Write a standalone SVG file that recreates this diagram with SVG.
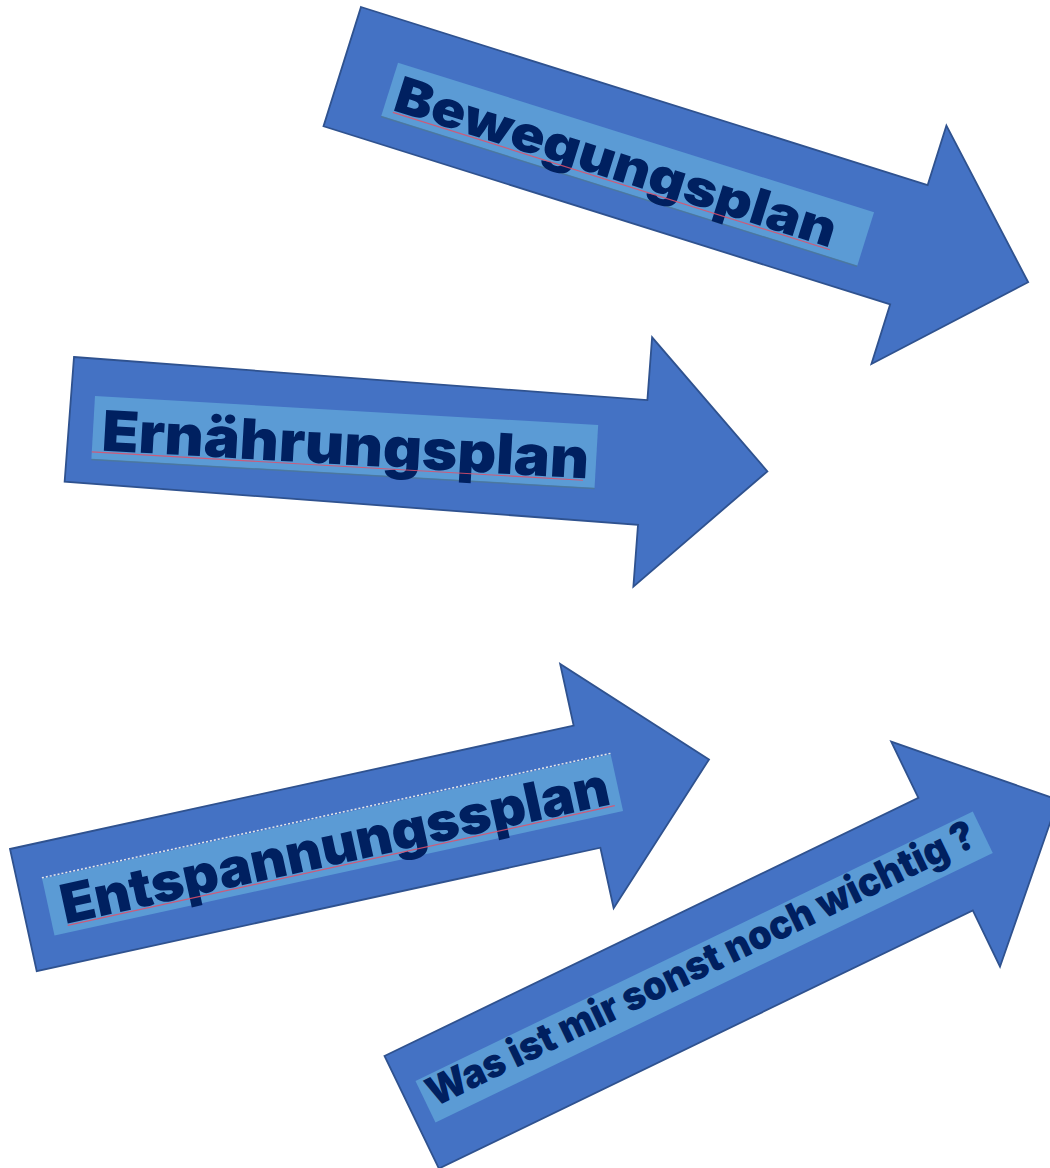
<svg xmlns="http://www.w3.org/2000/svg" width="1050" height="1168" viewBox="0 0 1050 1168">
<style>
.arrow{fill:#4472C4;stroke:#2F528F;stroke-width:1.8;stroke-linejoin:miter}
.box{fill:#5B9BD5}
.shadow{stroke:#4E7A92;stroke-width:1.5;opacity:0.7}
.lbl{font-family:Inter,Lato,"DejaVu Sans",sans-serif;font-weight:900;fill:#002060}
.spell{stroke:#E0506A;stroke-width:1.2;fill:none;opacity:0.85}
.dash{stroke:#E8E8E8;stroke-width:1.5;stroke-dasharray:2 2;fill:none}
</style>
<rect width="1050" height="1168" fill="#FFFFFF"/>
<g id="arrow-bewegung" transform="translate(361,7) rotate(17.45)">
<polygon class="arrow" points="0,0 594,0 594,-62.5 719,62.5 594,187.5 594,125 0,125"/>
<rect class="box" x="52" y="42" width="499" height="56"/>
<line class="shadow" x1="52" y1="98.5" x2="551" y2="98.5"/>
<text class="lbl" x="60" y="89" font-size="50" textLength="460" lengthAdjust="spacingAndGlyphs">Bewegungsplan</text>
<line class="spell" x1="62" y1="91" x2="520" y2="91"/>
</g>
<g id="arrow-ernaehrung" transform="translate(74,357) rotate(4.3)">
<polygon class="arrow" points="0,0 575,0 575,-63 700,62 575,187 575,125 0,125"/>
</g>
<g id="label-ernaehrung" transform="translate(95,396) rotate(3.3)">
<rect class="box" x="0" y="0" width="504" height="63"/>
<line class="shadow" x1="0" y1="63.5" x2="504" y2="63.5"/>
<text class="lbl" x="9" y="54" font-size="56" textLength="488" lengthAdjust="spacingAndGlyphs">Ernährungsplan</text>
<line class="spell" x1="0" y1="56" x2="492" y2="56"/>
</g>
<g id="arrow-entspannung" transform="translate(10,849) rotate(-12.35)">
<polygon class="arrow" points="0,0 577,0 577,-63 702,62 577,187 577,125 0,125"/>
<rect class="box" x="25" y="36" width="582" height="58"/>
<line class="dash" x1="25" y1="35" x2="607" y2="35"/>
<text class="lbl" x="38" y="85" font-size="54" textLength="560" lengthAdjust="spacingAndGlyphs">Entspannungssplan</text>
<line class="spell" x1="40" y1="87" x2="600" y2="87"/>
</g>
<g id="arrow-wichtig" transform="translate(384.5,1056) rotate(-25.8)">
<polygon class="arrow" points="0,0 593,0 593,-62.5 718,62.5 593,187.5 593,125 0,125"/>
<rect class="box" x="17" y="36" width="619" height="46"/>
<text class="lbl" x="23" y="68" font-size="40" textLength="604" lengthAdjust="spacingAndGlyphs">Was ist mir sonst noch wichtig ?</text>
</g>
</svg>
